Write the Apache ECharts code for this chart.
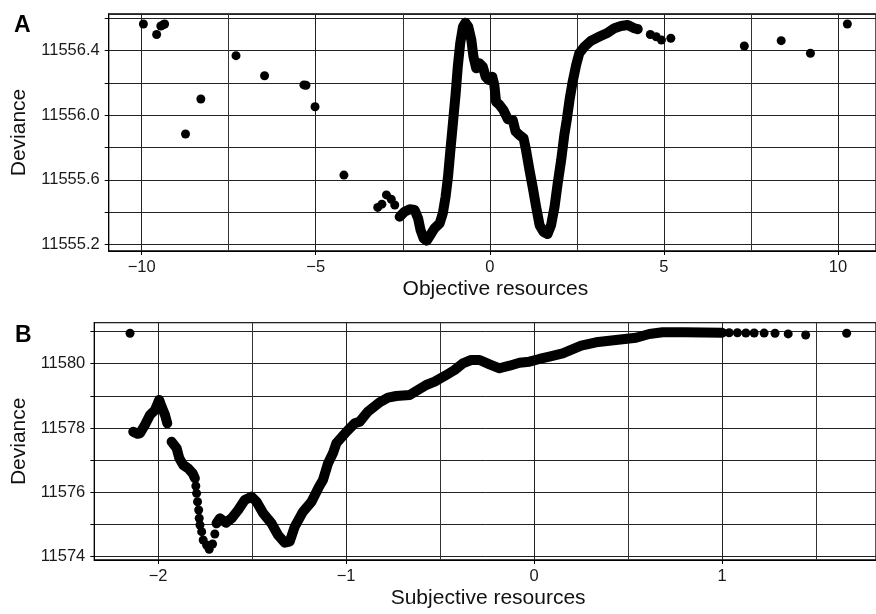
<!DOCTYPE html>
<html>
<head>
<meta charset="utf-8">
<script src="https://cdn.jsdelivr.net/npm/echarts@6/dist/echarts.min.js"></script>
<style>
  html, body { margin: 0; padding: 0; background: #fff; }
  #chart { width: 876px; height: 614px; }
</style>
</head>
<body>
<div id="chart"></div>
<script>
// panel A: objective resources vs deviance
var aCurveX = [-2.59, -2.45, -2.30, -2.16, -2.06, -1.99, -1.90, -1.81, -1.71, -1.59, -1.44, -1.35, -1.27, -1.20, -1.14, -1.06, -0.98, -0.92, -0.85, -0.77, -0.70, -0.62, -0.53, -0.47, -0.39, -0.30, -0.20, -0.12, -0.03, 0.07, 0.13, 0.18, 0.28, 0.39, 0.52, 0.66, 0.74, 0.85, 0.97, 1.04, 1.14, 1.23, 1.33, 1.43, 1.54, 1.66, 1.76, 1.86, 1.95, 2.05, 2.14, 2.21, 2.29, 2.38, 2.48, 2.57, 2.72, 2.91, 3.15, 3.39, 3.58, 3.77, 3.96, 4.15, 4.25];
var aCurveY = [11555.372, 11555.403, 11555.418, 11555.414, 11555.362, 11555.290, 11555.238, 11555.224, 11555.259, 11555.300, 11555.331, 11555.393, 11555.496, 11555.620, 11555.765, 11555.950, 11556.136, 11556.300, 11556.446, 11556.549, 11556.573, 11556.549, 11556.466, 11556.363, 11556.291, 11556.322, 11556.300, 11556.239, 11556.219, 11556.239, 11556.188, 11556.084, 11556.064, 11556.033, 11555.975, 11555.970, 11555.900, 11555.878, 11555.858, 11555.785, 11555.661, 11555.558, 11555.434, 11555.320, 11555.279, 11555.265, 11555.320, 11555.434, 11555.579, 11555.723, 11555.878, 11555.971, 11556.095, 11556.208, 11556.311, 11556.384, 11556.425, 11556.462, 11556.487, 11556.511, 11556.539, 11556.553, 11556.559, 11556.539, 11556.533];
var aDotsX = [-9.95, -9.57, -9.45, -9.38, -9.34, -8.74, -8.30, -7.29, -6.47, -5.34, -5.28, -5.02, -4.19, -3.22, -3.10, -2.97, -2.83, -2.73, 4.61, 4.78, 4.93, 5.20, 7.31, 8.37, 9.21, 10.27];
var aDotsY = [11556.565, 11556.500, 11556.553, 11556.560, 11556.565, 11555.884, 11556.101, 11556.369, 11556.245, 11556.188, 11556.186, 11556.053, 11555.630, 11555.430, 11555.450, 11555.507, 11555.480, 11555.445, 11556.500, 11556.486, 11556.466, 11556.477, 11556.429, 11556.462, 11556.384, 11556.565];

// panel B: subjective resources vs deviance
var bSeg1X = [-2.132, -2.110, -2.096, -2.070, -2.043, -2.016, -1.994, -1.981, -1.963, -1.951];
var bSeg1Y = [11577.886, 11577.820, 11577.836, 11578.095, 11578.405, 11578.561, 11578.872, 11578.663, 11578.405, 11578.147];
var bSeg2X = [-1.928, -1.901, -1.887, -1.866, -1.840, -1.816, -1.804];
var bSeg2Y = [11577.575, 11577.370, 11577.060, 11576.851, 11576.749, 11576.593, 11576.438];
var bSeg3X = [-1.689, -1.671, -1.639, -1.609, -1.574, -1.539, -1.503, -1.476, -1.441, -1.397, -1.362, -1.326, -1.300, -1.273, -1.229, -1.184, -1.144, -1.123, -1.096, -1.070, -1.052, -0.998, -0.954, -0.928, -0.884, -0.822, -0.777, -0.733, -0.662, -0.618, -0.574, -0.529, -0.467, -0.423, -0.379, -0.335, -0.290, -0.237, -0.184, -0.131, -0.078, -0.025, 0.028, 0.081, 0.152, 0.250, 0.329, 0.435, 0.542, 0.612, 0.683, 0.800, 0.900, 1.000];
var bSeg3Y = [11575.039, 11575.194, 11575.057, 11575.194, 11575.452, 11575.763, 11575.866, 11575.710, 11575.350, 11575.039, 11574.675, 11574.436, 11574.467, 11574.933, 11575.400, 11575.710, 11576.177, 11576.385, 11576.904, 11577.215, 11577.526, 11577.886, 11578.147, 11578.197, 11578.508, 11578.800, 11578.943, 11578.996, 11579.027, 11579.182, 11579.338, 11579.440, 11579.649, 11579.804, 11580.012, 11580.115, 11580.115, 11579.980, 11579.857, 11579.938, 11580.031, 11580.062, 11580.146, 11580.218, 11580.323, 11580.560, 11580.665, 11580.737, 11580.808, 11580.923, 11580.976, 11580.975, 11580.970, 11580.965];
var bDotsX = [-2.149, -1.799, -1.795, -1.790, -1.784, -1.781, -1.777, -1.768, -1.760, -1.742, -1.728, -1.710, -1.698, 1.037, 1.081, 1.126, 1.170, 1.223, 1.281, 1.351, 1.444, 1.662];
var bDotsY = [11580.945, 11576.198, 11575.971, 11575.710, 11575.452, 11575.194, 11574.986, 11574.778, 11574.520, 11574.364, 11574.230, 11574.395, 11574.706, 11580.960, 11580.960, 11580.955, 11580.955, 11580.950, 11580.945, 11580.925, 11580.890, 11580.945];

function pairs(xs, ys) {
  return xs.map(function (x, i) { return [x, ys[i]]; });
}

function isStep(v, step) {
  return Math.abs(v / step - Math.round(v / step)) < 1e-6;
}

function minusLabel(v) {
  return v < 0 ? '\u2212' + Math.abs(v) : String(v);
}

var FONT = 'Liberation Sans';
var gridLine = { show: true, lineStyle: { color: '#222', width: 1 } };
var minorLine = { show: true, lineStyle: { color: '#333', width: 1 } };

function xAxisOf(gridIndex, name, min, max, step) {
  return {
    type: 'value', gridIndex: gridIndex, min: min, max: max, splitNumber: 4,
    name: name, nameLocation: 'middle', nameGap: 28,
    nameTextStyle: { fontSize: 21, color: '#111', fontFamily: FONT, padding: [0, 0, 0, 6] },
    axisLine: { show: true, onZero: false, lineStyle: { color: '#000', width: 1 } },
    axisTick: { show: true, length: 4, lineStyle: { color: '#000' } },
    axisLabel: {
      fontSize: 16.5, color: '#1a1a1a', fontFamily: FONT, margin: 8,
      showMinLabel: false, showMaxLabel: false,
      formatter: function (v) { return isStep(v, step) ? minusLabel(v) : ''; }
    },
    splitLine: gridLine,
    minorTick: { show: false, splitNumber: 2 },
    minorSplitLine: minorLine
  };
}

function yAxisOf(gridIndex, min, max, split, step, nameGap, fmt) {
  return {
    type: 'value', gridIndex: gridIndex, min: min, max: max, splitNumber: split,
    name: 'Deviance', nameLocation: 'middle', nameGap: nameGap, nameRotate: 90,
    nameTextStyle: { fontSize: 21, color: '#111', fontFamily: FONT },
    axisLine: { show: true, onZero: false, lineStyle: { color: '#000', width: 1 } },
    axisTick: { show: true, length: 4, lineStyle: { color: '#000' } },
    axisLabel: {
      fontSize: 16.5, color: '#1a1a1a', fontFamily: FONT, margin: 9,
      showMinLabel: false, showMaxLabel: false,
      formatter: function (v) { return isStep(v, step) ? fmt(v) : ''; }
    },
    splitLine: gridLine
  };
}

function curve(xi, yi, data) {
  return {
    type: 'line', xAxisIndex: xi, yAxisIndex: yi, data: data,
    symbol: 'none', smooth: false, silent: true, animation: false,
    lineStyle: { color: '#000', width: 10, cap: 'round', join: 'round' }
  };
}

function dots(xi, yi, data) {
  return {
    type: 'scatter', xAxisIndex: xi, yAxisIndex: yi, data: data,
    symbolSize: 9, itemStyle: { color: '#000', opacity: 1 }, animation: false
  };
}

var chart = echarts.init(document.getElementById('chart'), null, { renderer: 'canvas' });

chart.setOption({
  backgroundColor: '#fff',
  textStyle: { fontFamily: FONT },
  animation: false,
  title: [
    { text: 'A', left: 9, top: 9, textStyle: { fontSize: 23, fontWeight: 'bold', color: '#000', fontFamily: FONT } },
    { text: 'B', left: 10, top: 319, textStyle: { fontSize: 23, fontWeight: 'bold', color: '#000', fontFamily: FONT } }
  ],
  grid: [
    { left: 108.7, top: 14, right: -1, bottom: 363, show: true, borderColor: '#000', borderWidth: 1.3, backgroundColor: '#fff' },
    { left: 94.3, top: 322.7, right: -1, bottom: 54, show: true, borderColor: '#000', borderWidth: 1.3, backgroundColor: '#fff' }
  ],
  xAxis: [
    xAxisOf(0, 'Objective resources', -10.947, 11.093, 5),
    xAxisOf(1, 'Subjective resources', -2.339, 1.818, 1)
  ],
  yAxis: [
    yAxisOf(0, 11555.160, 11556.627, 7, 0.4, 79, function (v) { return v.toFixed(1); }),
    yAxisOf(1, 11573.898, 11581.274, 7, 2, 64, function (v) { return String(Math.round(v)); })
  ],
  series: [
    curve(0, 0, pairs(aCurveX, aCurveY)),
    dots(0, 0, pairs(aDotsX, aDotsY)),
    curve(1, 1, pairs(bSeg1X, bSeg1Y)),
    curve(1, 1, pairs(bSeg2X, bSeg2Y)),
    curve(1, 1, pairs(bSeg3X, bSeg3Y)),
    dots(1, 1, pairs(bDotsX, bDotsY))
  ]
});
</script>
</body>
</html>
